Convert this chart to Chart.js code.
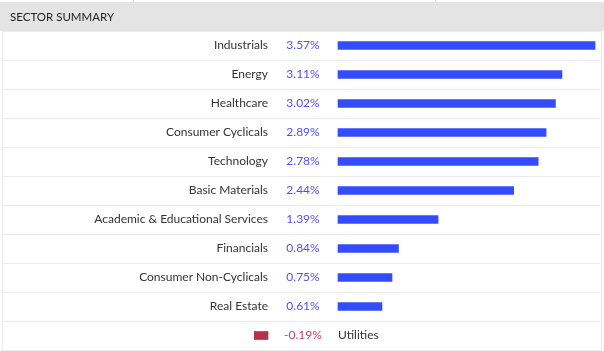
<!DOCTYPE html>
<html>
<head>
<meta charset="utf-8">
<script src="https://cdn.jsdelivr.net/npm/chart.js@4"></script>
<style>
  html, body { margin: 0; padding: 0; background: #fff; }
  #wrap { width: 604px; height: 351px; }
</style>
</head>
<body>
<div id="wrap"><canvas id="myChart" width="604" height="351"></canvas></div>
<script>
const sectors = ['Industrials', 'Energy', 'Healthcare', 'Consumer Cyclicals', 'Technology', 'Basic Materials',
    'Academic & Educational Services', 'Financials', 'Consumer Non-Cyclicals', 'Real Estate', 'Utilities'];
const changes = [3.57, 3.11, 3.02, 2.89, 2.78, 2.44, 1.39, 0.84, 0.75, 0.61, -0.19];
const title = 'SECTOR SUMMARY';

// layout of the table, in pixels
const W = 604;
const AREA_LEFT = 2, AREA_RIGHT = 602, HEADER_H = 31;
const ZERO_PX = 338;      // where positive bars start
const NEG_ZERO_PX = 268;  // where negative bars end (left of the % text)
const PX_PER_PCT = 72;

const FONT = '12px Lato, "Open Sans", sans-serif';

const tablePlugin = {
    id: 'table',
    beforeDraw(chart) {
        const { ctx, chartArea } = chart;
        ctx.save();
        // tab remnants above header
        ctx.strokeStyle = '#dddddd';
        ctx.lineWidth = 1;
        ctx.beginPath();
        ctx.moveTo(133.5, 0); ctx.lineTo(133.5, 2);
        ctx.moveTo(435.5, 0); ctx.lineTo(435.5, 2);
        ctx.stroke();
        // header band
        ctx.fillStyle = '#e4e4e4';
        ctx.fillRect(0, 2, W, HEADER_H - 2);
        ctx.fillStyle = '#222222';
        ctx.font = '11.5px Lato, "Open Sans", sans-serif';
        ctx.textBaseline = 'middle';
        ctx.textAlign = 'left';
        ctx.fillText(title, 10, 17);
        // side borders
        ctx.strokeStyle = '#ebebeb';
        ctx.beginPath();
        ctx.moveTo(chartArea.left + 0.5, HEADER_H); ctx.lineTo(chartArea.left + 0.5, chartArea.bottom);
        ctx.moveTo(chartArea.right - 0.5, HEADER_H); ctx.lineTo(chartArea.right - 0.5, chartArea.bottom);
        ctx.stroke();
        ctx.restore();
    },
    afterDatasetsDraw(chart) {
        const { ctx } = chart;
        const x = chart.scales.x;
        const xNeg = chart.scales.xNeg;
        const y = chart.scales.y;
        ctx.save();
        ctx.font = FONT;
        ctx.textBaseline = 'middle';
        changes.forEach((v, i) => {
            const cy = y.getPixelForValue(i);
            const pct = v.toFixed(2) + '%';
            if (v >= 0) {
                const zero = x.getPixelForValue(0);
                ctx.fillStyle = '#333333';
                ctx.textAlign = 'right';
                ctx.fillText(sectors[i], zero - 70, cy);
                ctx.fillStyle = '#4f4fff';
                ctx.textAlign = 'center';
                ctx.fillText(pct, zero - 35, cy);
            } else {
                const zero = xNeg.getPixelForValue(0);
                ctx.fillStyle = '#cc3d6b';
                ctx.textAlign = 'center';
                ctx.fillText(pct, zero + 35, cy);
                ctx.fillStyle = '#333333';
                ctx.textAlign = 'left';
                ctx.fillText(sectors[i], zero + 70, cy);
            }
        });
        ctx.restore();
    }
};

const ctx = document.getElementById('myChart');

new Chart(ctx, {
    type: 'bar',
    data: {
        labels: sectors,
        datasets: [{
            data: changes.map(v => v >= 0 ? v : null),
            backgroundColor: '#334cff',
            xAxisID: 'x'
        }, {
            data: changes.map(v => v < 0 ? v : null),
            backgroundColor: '#b8304a',
            xAxisID: 'xNeg'
        }]
    },
    options: {
        indexAxis: 'y',
        responsive: false,
        animation: false,
        layout: {
            padding: { left: AREA_LEFT, right: W - AREA_RIGHT, top: HEADER_H, bottom: 1 }
        },
        datasets: {
            bar: { barThickness: 8, grouped: false }
        },
        plugins: {
            legend: { display: false },
            tooltip: { enabled: false }
        },
        scales: {
            x: {
                display: false,
                min: (AREA_LEFT - ZERO_PX) / PX_PER_PCT,
                max: (AREA_RIGHT - ZERO_PX) / PX_PER_PCT
            },
            xNeg: {
                display: false,
                axis: 'x',
                min: (AREA_LEFT - NEG_ZERO_PX) / PX_PER_PCT,
                max: (AREA_RIGHT - NEG_ZERO_PX) / PX_PER_PCT
            },
            y: {
                ticks: { display: false },
                border: { display: false },
                grid: { offset: true, color: '#ebebeb', drawTicks: false },
                afterFit: (s) => { s.width = 0; }
            }
        }
    },
    plugins: [tablePlugin]
});
</script>
</body>
</html>
